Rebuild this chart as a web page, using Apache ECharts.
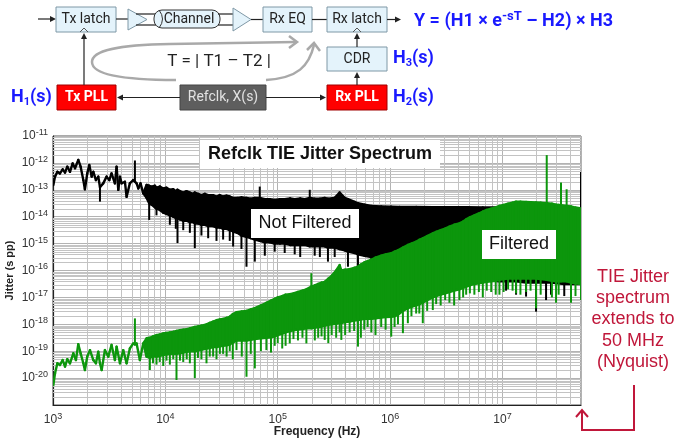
<!DOCTYPE html>
<html>
<head>
<meta charset="utf-8">
<script src="https://cdn.jsdelivr.net/npm/echarts@6/dist/echarts.min.js"></script>
<style>
  html, body { margin: 0; padding: 0; background: #fff; }
  #chart { width: 674px; height: 438px; }
</style>
</head>
<body>
<div id="chart"></div>
<script>
// values, stored as powers of ten
// row: [log10 f (Hz), top, bottom, spike]  -- bottom / spike are optional
var notFilteredRows = [
  [3.003, -12.82], [3.018, -12.51], [3.039, -12.33], [3.062, -12.39], [3.086, -12.24],
  [3.107, -12.36], [3.127, -12.14], [3.151, -12.33], [3.175, -12.02], [3.196, -12.2],
  [3.225, -11.89], [3.246, -12.14], [3.27, -12.64], [3.284, -12.98], [3.305, -12.39],
  [3.323, -12.08], [3.344, -12.51], [3.359, -12.33], [3.382, -12.64], [3.403, -12.51],
  [3.418, -12.9, -12.9, -13.44], [3.447, -12.76], [3.477, -12.51], [3.501, -12.64],
  [3.521, -12.39], [3.551, -12.76], [3.566, -12.14], [3.581, -13.0], [3.596, -12.51],
  [3.61, -12.76], [3.64, -12.7], [3.655, -13.26], [3.684, -12.76], [3.714, -12.64],
  [3.729, -12.7, -12.7, -11.91], [3.744, -12.76], [3.759, -12.95], [3.779, -12.76],
  [3.803, -13.13],
  [3.833, -12.82, -13.3], [3.856, -12.85, -13.5, -14.12], [3.877, -12.88, -13.55],
  [3.907, -12.85, -13.65], [3.921, -12.92, -13.7, -13.95], [3.951, -12.88, -13.75],
  [3.981, -12.95, -13.85], [4.01, -12.92, -13.9], [4.04, -13.0, -13.95, -14.3],
  [4.07, -12.98, -14.0], [4.093, -13.05, -14.05, -14.45], [4.108, -13.0, -14.05, -14.98],
  [4.129, -13.05, -14.1], [4.159, -13.1, -14.15, -14.5], [4.188, -13.05, -14.15],
  [4.218, -13.1, -14.2, -14.6], [4.247, -13.15, -14.2], [4.262, -13.1, -14.25, -15.17],
  [4.292, -13.15, -14.25], [4.321, -13.2, -14.3, -14.7], [4.351, -13.15, -14.3],
  [4.381, -13.2, -14.35, -14.8], [4.425, -13.2, -14.35], [4.455, -13.25, -14.4, -14.9],
  [4.484, -13.2, -14.4], [4.514, -13.25, -14.45, -14.85], [4.544, -13.22, -14.45],
  [4.573, -13.25, -14.5, -14.9], [4.603, -13.3, -14.55, -15.11], [4.64, -13.3, -14.6],
  [4.677, -13.28, -14.7, -15.2], [4.722, -13.3, -14.75, -15.86], [4.76, -13.33, -14.8],
  [4.796, -13.3, -14.85, -15.67], [4.84, -13.3, -14.9, -12.88], [4.885, -13.35, -14.95, -15.45],
  [4.93, -13.35, -14.95], [4.973, -13.38, -15.0, -15.3], [5.02, -13.35, -15.0],
  [5.062, -13.35, -15.0, -15.35], [5.11, -13.32, -15.05], [5.151, -13.35, -15.05, -15.4],
  [5.2, -13.32, -15.05, -15.5], [5.24, -13.35, -15.05], [5.285, -13.3, -15.1, -13.0],
  [5.329, -13.33, -15.1, -15.45], [5.375, -13.33, -15.1, -15.5], [5.418, -13.3, -15.1],
  [5.447, -13.33, -15.15, -15.67], [5.507, -13.3, -15.15, -15.5], [5.551, -13.1, -15.2],
  [5.596, -13.3, -15.25], [5.625, -13.35, -15.3, -15.86], [5.685, -13.45, -15.35],
  [5.714, -13.5, -15.4, -15.86], [5.773, -13.55, -15.45], [5.833, -13.6, -15.5, -15.75],
  [5.921, -13.62, -15.5], [6.01, -13.63, -15.6], [6.084, -13.64, -15.7],
  [6.232, -13.64, -15.9], [6.38, -13.65, -16.1], [6.528, -13.65, -16.2],
  [6.677, -13.65, -16.3], [6.825, -13.66, -16.35], [6.973, -13.66, -16.4],
  [7.032, -13.66, -16.4, -16.75], [7.121, -13.67, -16.4, -16.9], [7.21, -13.67, -16.45, -16.97],
  [7.299, -13.68, -16.45, -17.53], [7.388, -13.68, -16.45, -17.1], [7.432, -13.68, -16.45, -16.9],
  [7.55, -13.66, -16.5, -16.95], [7.699, -13.7, -16.5, -12.34]
];

var filteredRows = [
  [3.003, -20.26], [3.018, -19.82], [3.039, -19.45], [3.062, -19.51], [3.086, -19.33],
  [3.107, -19.57], [3.127, -19.3], [3.151, -19.45], [3.181, -19.08], [3.204, -19.33],
  [3.225, -18.74], [3.246, -19.08], [3.27, -19.45], [3.284, -19.7], [3.305, -19.2],
  [3.329, -18.96], [3.359, -19.33], [3.382, -19.45], [3.403, -19.02], [3.418, -19.45],
  [3.433, -19.7], [3.462, -18.96], [3.492, -19.2], [3.521, -18.77], [3.551, -19.33],
  [3.566, -18.83], [3.596, -19.45], [3.625, -18.96], [3.655, -19.45], [3.684, -18.9],
  [3.714, -18.71], [3.729, -18.75, -18.75, -17.78], [3.744, -18.71], [3.773, -19.33],
  [3.803, -18.71],
  [3.833, -18.52, -19.2], [3.862, -18.5, -19.25, -19.7], [3.89, -18.45, -19.2, -19.45],
  [3.921, -18.4, -19.2, -19.5], [3.95, -18.38, -19.18, -19.4], [3.981, -18.34, -19.14, -19.55],
  [4.01, -18.32, -19.12, -19.35], [4.04, -18.3, -19.1, -19.5], [4.07, -18.28, -19.1, -19.3],
  [4.099, -18.25, -19.1, -20.07], [4.13, -18.22, -19.08, -19.35], [4.159, -18.2, -19.05, -19.4],
  [4.19, -18.18, -19.02, -19.3], [4.218, -18.15, -19.0, -19.45], [4.262, -18.1, -19.0, -20.0],
  [4.29, -18.08, -18.98, -19.25], [4.321, -18.05, -18.95, -19.3], [4.366, -18.0, -18.9, -19.45],
  [4.395, -17.95, -18.88, -19.2], [4.425, -17.9, -18.85, -19.2], [4.455, -17.85, -18.85, -19.3],
  [4.485, -17.82, -18.82, -19.1], [4.514, -17.8, -18.8, -19.1], [4.545, -17.76, -18.78, -19.2],
  [4.573, -17.72, -18.75, -19.0], [4.6, -17.62, -18.68, -19.3], [4.633, -17.55, -18.6, -18.96],
  [4.68, -17.52, -18.6, -19.2], [4.722, -17.5, -18.6, -19.95], [4.76, -17.45, -18.58, -19.1],
  [4.796, -17.4, -18.55, -19.64], [4.85, -17.3, -18.52, -19.0], [4.899, -17.2, -18.5, -18.96],
  [4.94, -17.12, -18.48, -19.05], [4.973, -17.05, -18.45, -18.8], [5.0, -17.0, -18.4, -18.7],
  [5.04, -16.95, -18.35, -18.9], [5.07, -16.9, -18.3, -18.8], [5.107, -16.88, -18.25, -18.71],
  [5.14, -16.85, -18.22, -18.55], [5.18, -16.8, -18.2, -18.6], [5.22, -16.75, -18.18, -18.5],
  [5.255, -16.7, -18.15, -18.71], [5.299, -16.6, -18.15, -16.1], [5.33, -16.55, -18.12, -18.6],
  [5.36, -16.5, -18.1, -18.5], [5.39, -16.45, -18.08, -18.45], [5.418, -16.42, -18.05, -18.58],
  [5.45, -16.3, -18.02, -18.7], [5.48, -16.2, -18.0, -18.4], [5.52, -16.0, -17.98, -18.5],
  [5.551, -15.8, -17.95, -18.3], [5.566, -16.0, -17.95, -18.58], [5.6, -15.97, -17.92, -18.4],
  [5.64, -15.95, -17.9, -18.3], [5.68, -15.9, -17.86, -18.25], [5.714, -15.86, -17.84, -18.83],
  [5.74, -15.78, -17.82, -18.5], [5.77, -15.7, -17.8, -18.2], [5.8, -15.65, -17.8, -18.1],
  [5.833, -15.6, -17.8, -18.3], [5.87, -15.52, -17.78, -18.4], [5.921, -15.45, -17.75, -18.1],
  [5.96, -15.4, -17.73, -18.2], [6.01, -15.36, -17.72, -18.46], [6.04, -15.3, -17.7, -18.1],
  [6.07, -15.25, -17.65, -18.0], [6.114, -15.15, -17.5, -18.33], [6.158, -15.05, -17.4, -17.96],
  [6.19, -15.0, -17.35, -17.7], [6.232, -14.93, -17.3, -17.6], [6.26, -14.86, -17.25, -17.6],
  [6.291, -14.8, -17.2, -17.96], [6.33, -14.72, -17.1, -17.5], [6.38, -14.62, -17.0, -17.47],
  [6.41, -14.56, -16.95, -17.25], [6.45, -14.5, -16.9, -17.3], [6.49, -14.44, -16.85, -17.1],
  [6.528, -14.37, -16.8, -17.2], [6.57, -14.3, -16.75, -17.3], [6.617, -14.25, -16.7, -17.1],
  [6.65, -14.18, -16.65, -17.0], [6.677, -14.1, -16.6, -16.9], [6.71, -14.02, -16.55, -16.85],
  [6.75, -13.95, -16.5, -16.9], [6.79, -13.88, -16.48, -16.8], [6.825, -13.81, -16.45, -17.0],
  [6.86, -13.75, -16.42, -16.75], [6.9, -13.7, -16.4, -16.8], [6.94, -13.65, -16.38, -16.9],
  [6.973, -13.6, -16.35, -16.9], [7.01, -13.56, -16.32, -16.8], [7.05, -13.52, -16.3, -16.7],
  [7.09, -13.48, -16.3, -16.75], [7.121, -13.44, -16.3, -16.85], [7.16, -13.44, -16.3, -16.9],
  [7.21, -13.45, -16.3, -16.8], [7.25, -13.46, -16.3, -16.75], [7.299, -13.47, -16.3, -17.4],
  [7.34, -13.48, -16.32, -16.9], [7.394, -13.5, -16.35, -11.71], [7.44, -13.52, -16.38, -17.0],
  [7.477, -13.55, -16.4, -17.2], [7.5, -13.56, -16.4, -16.9], [7.521, -13.57, -16.4, -12.73],
  [7.571, -13.6, -16.4, -12.98], [7.61, -13.62, -16.45, -17.2], [7.65, -13.66, -16.48, -16.95],
  [7.699, -13.69, -16.5, -17.1]
];

var xMin = 1e3, xMax = 5e7;
var yMin = 1e-21, yMax = 1e-11;
var xDecades = [3, 4, 5, 6, 7];
var yDecades = [-21, -20, -19, -18, -17, -16, -15, -14, -13, -12];

var blue = '#1a1aff';
var red = '#c0173a';
var grey = '#a9a9a9';

function toPoints(rows) {
  return rows.map(function (r) {
    var top = r[1];
    var bottom = r.length > 2 ? r[2] : top;
    var spike = r.length > 3 ? r[3] : bottom;
    return [Math.pow(10, r[0]), Math.pow(10, top), Math.pow(10, bottom), Math.pow(10, spike)];
  });
}

// band between consecutive rows + a thin spike at each row
function bandRenderer(color) {
  return function (params, api) {
    var i = params.dataIndexInside;
    var f = api.value(0), top = api.value(1), bot = api.value(2), sp = api.value(3);
    var a = api.coord([f, top]), b = api.coord([f, bot]);
    var children = [];
    if (i + 1 < params.dataInsideLength) {
      var fn = api.value(0, i + 1);
      var c = api.coord([fn, api.value(1, i + 1)]);
      var d = api.coord([fn, api.value(2, i + 1)]);
      children.push({
        type: 'polygon', shape: { points: [a, c, d, b] },
        style: { fill: color, stroke: color, lineWidth: 2.4, lineJoin: 'round' }
      });
    }
    if (sp !== bot) {
      var s = api.coord([f, sp]);
      var from = sp > top ? a : b;
      children.push({
        type: 'line', shape: { x1: from[0], y1: from[1], x2: s[0], y2: s[1] },
        style: { stroke: color, lineWidth: 2 }
      });
    }
    return { type: 'group', children: children };
  };
}

// minor grid lines at 2..9 x 10^k: [x, y, 0 = vertical | 1 = horizontal]
var minorGrid = [];
xDecades.forEach(function (k) {
  for (var m = 2; m <= 9; m++) {
    var v = m * Math.pow(10, k);
    if (v < xMax) minorGrid.push([v, yMin, 0]);
  }
});
yDecades.forEach(function (k) {
  for (var m = 2; m <= 9; m++) minorGrid.push([xMin, m * Math.pow(10, k), 1]);
});

function gridRenderer(params, api) {
  var horizontal = api.value(2) === 1;
  var p1 = horizontal ? api.coord([xMin, api.value(1)]) : api.coord([api.value(0), yMin]);
  var p2 = horizontal ? api.coord([xMax, api.value(1)]) : api.coord([api.value(0), yMax]);
  if (horizontal) { p1[1] = p2[1] = Math.round(p1[1]) + 0.5; }
  else { p1[0] = p2[0] = Math.round(p1[0]) + 0.5; }
  return { type: 'line', shape: { x1: p1[0], y1: p1[1], x2: p2[0], y2: p2[1] },
    style: { stroke: '#c3c3c3', lineWidth: 1 } };
}

function expLabel(v) {
  return '{b|10}{e|' + Math.round(Math.log10(v)) + '}';
}
var labelRich = {
  b: { fontSize: 12, color: '#333', lineHeight: 16, fontFamily: 'Liberation Sans' },
  e: { fontSize: 9, color: '#333', lineHeight: 10, verticalAlign: 'top', fontFamily: 'Liberation Sans' }
};

// ---- block diagram helpers ----
function box(x, y, w, h, fill, stroke, text, color, bold) {
  return {
    type: 'group', children: [
      { type: 'rect', shape: { x: x, y: y, width: w, height: h }, style: { fill: fill, stroke: stroke, lineWidth: 1 } },
      { type: 'text', x: x + w / 2, y: y + h / 2, style: {
          text: text, fill: color, font: (bold ? 'bold ' : '') + '14px Roboto',
          textAlign: 'center', textVerticalAlign: 'middle', verticalAlign: 'middle' } }
    ]
  };
}
function line(x1, y1, x2, y2, color, w) {
  return { type: 'line', shape: { x1: x1, y1: y1, x2: x2, y2: y2 }, style: { stroke: color || '#222', lineWidth: w || 1.2 } };
}
function arrow(x1, y1, x2, y2, color) {
  var ang = Math.atan2(y2 - y1, x2 - x1), L = 6, W = 3;
  var bx = x2 - L * Math.cos(ang), by = y2 - L * Math.sin(ang);
  return {
    type: 'group', children: [
      line(x1, y1, bx, by, color),
      { type: 'polygon', shape: { points: [[x2, y2],
        [bx + W * Math.sin(ang), by - W * Math.cos(ang)],
        [bx - W * Math.sin(ang), by + W * Math.cos(ang)]] }, style: { fill: color || '#222' } }
    ]
  };
}
function curve(x1, y1, c1x, c1y, c2x, c2y, x2, y2) {
  return { type: 'bezierCurve', shape: { x1: x1, y1: y1, cpx1: c1x, cpy1: c1y, cpx2: c2x, cpy2: c2y, x2: x2, y2: y2 },
    style: { stroke: grey, lineWidth: 2.5, fill: null } };
}
function hLabel(x, y, n) {
  return { type: 'text', x: x, y: y, style: {
    text: '{a|H}{s|' + n + '}{a|(s)}', textVerticalAlign: 'middle', verticalAlign: 'middle',
    rich: {
      a: { fontFamily: 'Roboto', fontWeight: 'bold', fontSize: 18, fill: blue, lineHeight: 22 },
      s: { fontFamily: 'Roboto', fontWeight: 'bold', fontSize: 11, fill: blue, lineHeight: 11, verticalAlign: 'bottom' }
    } } };
}
function noteBox(cx, cy, w, h, text, font) {
  return {
    type: 'group', z: 100, children: [
      { type: 'rect', z: 100, shape: { x: cx - w / 2, y: cy - h / 2, width: w, height: h }, style: { fill: '#fff' } },
      { type: 'text', z: 101, x: cx, y: cy, style: { text: text, font: font, fill: '#111',
          textAlign: 'center', textVerticalAlign: 'middle', verticalAlign: 'middle' } }
    ]
  };
}

var lightFill = '#e4f3fb', lightStroke = '#7f98a6';
var diagram = [
  arrow(38, 19, 56, 19),
  box(56, 7, 60, 25, lightFill, lightStroke, 'Tx latch', '#222'),
  { type: 'polyline', shape: { points: [[80, 32], [84, 28], [88, 32]] }, style: { stroke: '#555', lineWidth: 1, fill: null } },
  line(116, 19, 128, 19),
  { type: 'polygon', shape: { points: [[128, 9], [128, 30], [147, 19.5]] }, style: { fill: lightFill, stroke: lightStroke, lineWidth: 1 } },
  line(136, 14, 156, 14), line(136, 25, 156, 25),
  { type: 'rect', shape: { x: 154, y: 10, width: 66, height: 18, r: 8 }, style: { fill: lightFill, stroke: '#333', lineWidth: 1 } },
  { type: 'bezierCurve', shape: { x1: 159, y1: 10, cpx1: 166, cpy1: 19, x2: 159, y2: 28 }, style: { stroke: '#333', fill: null, lineWidth: 1 } },
  { type: 'text', x: 189, y: 19.5, style: { text: 'Channel', font: '14px Roboto', fill: '#222', textAlign: 'center', textVerticalAlign: 'middle', verticalAlign: 'middle' } },
  line(218, 14, 240, 14), line(218, 25, 240, 25),
  { type: 'polygon', shape: { points: [[233, 8], [233, 31], [251, 19.5]] }, style: { fill: lightFill, stroke: lightStroke, lineWidth: 1 } },
  line(251, 19.5, 263, 19.5),
  box(263, 7, 49, 25, lightFill, lightStroke, 'Rx EQ', '#222'),
  line(312, 19.5, 327, 19.5),
  box(327, 7, 60, 25, lightFill, lightStroke, 'Rx latch', '#222'),
  { type: 'polyline', shape: { points: [[353, 32], [357, 28], [361, 32]] }, style: { stroke: '#555', lineWidth: 1, fill: null } },
  arrow(387, 19.5, 401, 19.5),
  { type: 'text', x: 414, y: 21, style: {
      text: '{m|Y = (H1 \u00d7 e}{s|-sT}{m| \u2013 H2) \u00d7 H3}', textVerticalAlign: 'middle', verticalAlign: 'middle',
      rich: {
        m: { fontFamily: 'Roboto', fontWeight: 'bold', fontSize: 18, fill: blue, lineHeight: 22 },
        s: { fontFamily: 'Roboto', fontWeight: 'bold', fontSize: 13, fill: blue, lineHeight: 13, verticalAlign: 'top' }
      } } },
  box(327, 47, 60, 24, lightFill, lightStroke, 'CDR', '#222'),
  arrow(357, 47, 357, 33),
  hLabel(393, 58, 3),
  box(327, 85, 60, 25, '#ff0000', '#a00000', 'Rx PLL', '#fff', true),
  arrow(357, 85, 357, 72),
  hLabel(393, 97, 2),
  box(57, 85, 59, 25, '#ff0000', '#a00000', 'Tx PLL', '#fff', true),
  hLabel(11, 97, 1),
  arrow(84, 85, 84, 33),
  box(180, 85, 86, 25, '#5e5e5e', '#444', 'Refclk, X(s)', '#e2e2e2'),
  arrow(180, 97.5, 117, 97.5),
  arrow(266, 97.5, 326, 97.5),
  curve(176, 80, 120, 80, 92, 74, 92, 62),
  curve(92, 62, 92, 50, 118, 45, 170, 44),
  { type: 'line', shape: { x1: 170, y1: 44, x2: 296, y2: 42 }, style: { stroke: grey, lineWidth: 2.5 } },
  { type: 'polyline', shape: { points: [[289, 36], [297, 42], [289, 48]] }, style: { stroke: grey, lineWidth: 2.5, fill: null } },
  curve(266, 80, 298, 78, 309, 66, 314, 45),
  { type: 'polyline', shape: { points: [[307, 50], [314, 43], [320, 51]] }, style: { stroke: grey, lineWidth: 2.5, fill: null } },
  { type: 'text', x: 219, y: 62, style: { text: 'T = | T1 \u2013 T2 |', font: '17px Roboto', fill: '#222', textAlign: 'center', textVerticalAlign: 'middle', verticalAlign: 'middle' } }
];

var notes = [
  noteBox(320, 154, 240, 28, 'Refclk TIE Jitter Spectrum', 'bold 18px "Liberation Sans"'),
  noteBox(305, 223.5, 108, 29, 'Not Filtered', '18px "Liberation Sans"'),
  noteBox(519, 244.5, 74, 29, 'Filtered', '18px "Liberation Sans"'),
  { type: 'text', x: 633, y: 266, style: { text: 'TIE Jitter\nspectrum\nextends to\n50 MHz\n(Nyquist)',
      font: '18px "Liberation Sans"', fill: red, textAlign: 'center', lineHeight: 21.3 } },
  { type: 'polyline', shape: { points: [[634, 385], [634, 430], [582, 430], [582, 411]] }, style: { stroke: red, lineWidth: 2, fill: null } },
  { type: 'polyline', shape: { points: [[576, 417], [582, 410], [588, 417]] }, style: { stroke: red, lineWidth: 2, fill: null } }
];

var chart = echarts.init(document.getElementById('chart'));
chart.setOption({
  animation: false,
  backgroundColor: '#fff',
  grid: {
    left: 53, right: 93, top: 136, bottom: 33, show: true, borderColor: '#555', borderWidth: 1,
    containLabel: false, outerBoundsMode: 'none'
  },
  xAxis: {
    type: 'log', logBase: 10, min: xMin, max: xMax, interval: 1,
    name: 'Frequency (Hz)', nameLocation: 'middle', nameGap: 21, nameMoveOverlap: false,
    nameTextStyle: { fontSize: 12, fontWeight: 'bold', color: '#222', fontFamily: 'Liberation Sans' },
    axisLine: { lineStyle: { color: '#222', width: 1.2 } },
    axisTick: { show: false },
    axisLabel: { formatter: expLabel, rich: labelRich, margin: 7, showMaxLabel: false },
    splitLine: { show: true, lineStyle: { color: '#b3b3b3', width: 1 } }
  },
  yAxis: {
    type: 'log', logBase: 10, min: yMin, max: yMax, interval: 1,
    name: 'Jitter (s pp)', nameLocation: 'middle', nameGap: 38, nameRotate: 90, nameMoveOverlap: false,
    nameTextStyle: { fontSize: 11, fontWeight: 'bold', color: '#222', fontFamily: 'Liberation Sans' },
    axisLine: { lineStyle: { color: '#222', width: 1.2 } },
    axisTick: { show: false },
    axisLabel: { formatter: expLabel, rich: labelRich, margin: 5, showMinLabel: false },
    splitLine: { show: true, lineStyle: { color: '#b3b3b3', width: 1 } }
  },
  series: [
    {
      name: 'minor grid', type: 'custom', z: 1, silent: true, clip: true,
      renderItem: gridRenderer,
      encode: { x: 0, y: 1 },
      data: minorGrid
    },
    {
      name: 'Not Filtered', type: 'custom', z: 3, clip: true,
      renderItem: bandRenderer('#000000'),
      encode: { x: 0, y: [1, 2, 3] },
      data: toPoints(notFilteredRows)
    },
    {
      name: 'Filtered', type: 'custom', z: 4, clip: true,
      renderItem: bandRenderer('#0c960c'),
      encode: { x: 0, y: [1, 2, 3] },
      data: toPoints(filteredRows)
    }
  ],
  graphic: { elements: diagram.concat(notes) }
});
</script>
</body>
</html>
